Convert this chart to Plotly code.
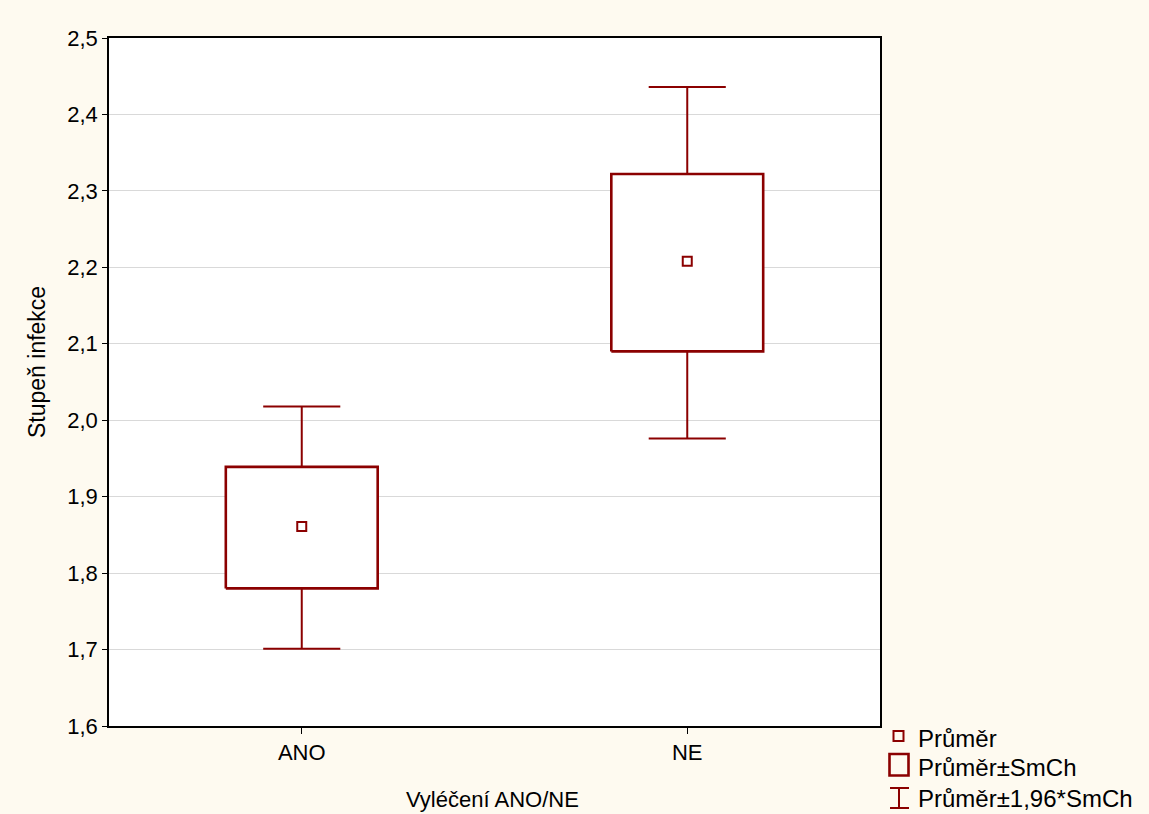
import plotly.graph_objects as go

categories = ["ANO", "NE"]
mean_vals = [1.861, 2.208]
se_low = [1.780, 2.090]
se_high = [1.939, 2.322]
ci_low = [1.701, 1.976]
ci_high = [2.018, 2.436]
y_ticks = [1.6, 1.7, 1.8, 1.9, 2.0, 2.1, 2.2, 2.3, 2.4, 2.5]
legend_labels = ["Průměr", "Průměr±SmCh", "Průměr±1,96*SmCh"]

RED = "#8B0000"
W, H = 1149, 814
L, R, T, B = 109, 880, 38, 726
FONT = "Liberation Sans, Arial, sans-serif"

xs = list(range(len(categories)))
box_hw = 0.197
cap_hw = 0.1

fig = go.Figure()

# whiskers
wx, wy = [], []
for i, x in enumerate(xs):
    wx += [x, x, None, x - cap_hw, x + cap_hw, None, x - cap_hw, x + cap_hw, None]
    wy += [ci_low[i], ci_high[i], None, ci_low[i], ci_low[i], None, ci_high[i], ci_high[i], None]
fig.add_trace(go.Scatter(x=wx, y=wy, mode="lines", line=dict(color=RED, width=2),
                         hoverinfo="skip", showlegend=False))

# boxes
for i, x in enumerate(xs):
    fig.add_trace(go.Scatter(
        x=[x - box_hw, x + box_hw, x + box_hw, x - box_hw, x - box_hw],
        y=[se_low[i], se_low[i], se_high[i], se_high[i], se_low[i]],
        mode="lines", fill="toself", fillcolor="white",
        line=dict(color=RED, width=2.6), hoverinfo="skip", showlegend=False))

# means
fig.add_trace(go.Scatter(x=xs, y=mean_vals, mode="markers",
                         marker=dict(symbol="square-open", size=9, color=RED, line=dict(width=2)),
                         showlegend=False))

def px(xp):
    return (xp - L) / (R - L)

def py(yp):
    return (B - yp) / (B - T)

shapes = []
annotations = []
# legend item 1: small square
shapes.append(dict(type="rect", xref="paper", yref="paper",
                   x0=px(893.5), x1=px(903.5), y0=py(741), y1=py(731),
                   line=dict(color=RED, width=2), fillcolor="rgba(0,0,0,0)"))
# legend item 2: big square
shapes.append(dict(type="rect", xref="paper", yref="paper",
                   x0=px(889.5), x1=px(908.5), y0=py(775.5), y1=py(754),
                   line=dict(color=RED, width=2.6), fillcolor="rgba(0,0,0,0)"))
# legend item 3: I-beam
shapes.append(dict(type="line", xref="paper", yref="paper",
                   x0=px(899), x1=px(899), y0=py(808), y1=py(788), line=dict(color=RED, width=2)))
shapes.append(dict(type="line", xref="paper", yref="paper",
                   x0=px(890), x1=px(909), y0=py(788), y1=py(788), line=dict(color=RED, width=2)))
shapes.append(dict(type="line", xref="paper", yref="paper",
                   x0=px(890), x1=px(909), y0=py(808), y1=py(808), line=dict(color=RED, width=2)))

for lab, yc in zip(legend_labels, [738, 767, 798]):
    annotations.append(dict(text=lab, xref="paper", yref="paper", x=px(916), y=py(yc),
                            xanchor="left", yanchor="middle", showarrow=False,
                            font=dict(family=FONT, size=24, color="black")))

annotations.append(dict(text="Vyléčení ANO/NE", xref="paper", yref="paper",
                        x=px(492), y=py(799), xanchor="center", yanchor="middle",
                        showarrow=False, font=dict(family=FONT, size=22, color="black")))
annotations.append(dict(text="Stupeň infekce", xref="paper", yref="paper",
                        x=px(37), y=py(362), xanchor="center", yanchor="middle", textangle=-90,
                        showarrow=False, font=dict(family=FONT, size=23, color="black")))

fig.update_layout(
    width=W, height=H,
    margin=dict(l=L, r=W - R, t=T, b=H - B),
    paper_bgcolor="#FEFAF0", plot_bgcolor="white",
    separators=", ",
    shapes=shapes, annotations=annotations,
    showlegend=False,
    font=dict(family=FONT, size=22, color="black"),
)
fig.update_xaxes(range=[-0.5, 1.5], tickvals=xs, ticktext=categories,
                 showgrid=False, zeroline=False, showline=True, linecolor="black", linewidth=1.5,
                 mirror=True, ticks="outside", ticklen=6, tickcolor="black",
                 tickfont=dict(family=FONT, size=22))
fig.update_yaxes(range=[1.6, 2.5], tickvals=y_ticks, tickformat=".1f",
                 showgrid=True, gridcolor="#D9D9D9", gridwidth=1, zeroline=False,
                 showline=True, linecolor="black", linewidth=1.5, mirror=True,
                 ticks="outside", ticklen=5, tickcolor="black",
                 tickfont=dict(family=FONT, size=22))

fig.write_html("out.html", config={"displayModeBar": False},
               post_script="document.body.style.margin='0';document.body.style.padding='0';")
